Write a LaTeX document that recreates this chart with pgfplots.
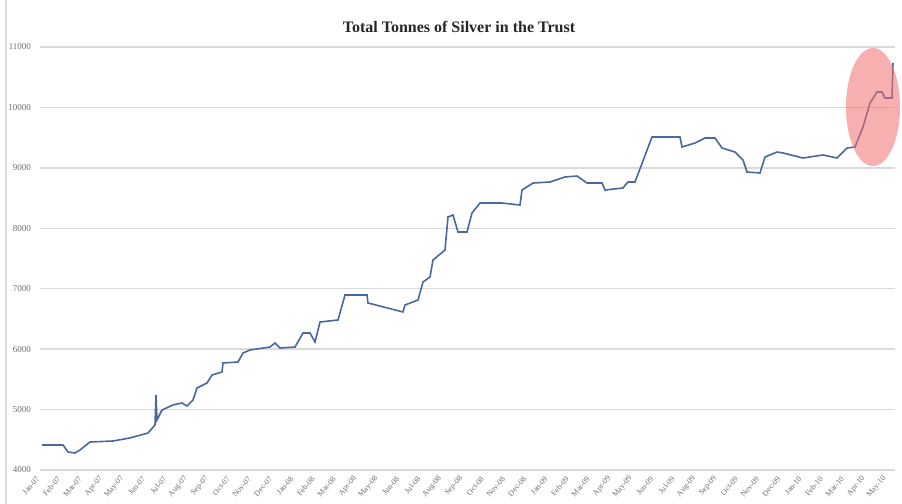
\documentclass[border=0pt]{standalone}
\usepackage{fontspec}
\setmainfont{Liberation Serif}
\usepackage{pgfplots}
\pgfplotsset{compat=1.18}
\definecolor{trustline}{RGB}{72,104,158}
\definecolor{gridgray}{RGB}{218,218,218}
\definecolor{ticktext}{RGB}{110,110,110}
\definecolor{ringred}{RGB}{240,110,110}

\begin{document}
\begin{tikzpicture}
\path[use as bounding box] (0,0) rectangle (451pt,252pt);
\draw[gridgray, line width=0.6pt] (3pt,0) -- (3pt,252pt);
\begin{axis}[
  at={(20pt,17pt)}, anchor=south west,
  scale only axis,
  width=427.5pt, height=211.5pt,
  xmin=40, xmax=895,
  ymin=4000, ymax=11000,
  axis line style={draw=none},
  ytick={4000,5000,...,11000},
  scaled y ticks=false,
  ymajorgrids,
  grid style={gridgray, line width=0.7pt},
  major tick length=0pt,
  /pgf/number format/assume math mode=true,
  /pgf/number format/1000 sep={},
  yticklabel style={font=\fontsize{4.5}{5}\selectfont, text=ticktext, xshift=-1pt},
  xtick={40,61.175,...,888},
  xticklabels={Jan-07,Feb-07,Mar-07,Apr-07,May-07,Jun-07,Jul-07,Aug-07,Sep-07,Oct-07,Nov-07,Dec-07,
    Jan-08,Feb-08,Mar-08,Apr-08,May-08,Jun-08,Jul-08,Aug-08,Sep-08,Oct-08,Nov-08,Dec-08,
    Jan-09,Feb-09,Mar-09,Apr-09,May-09,Jun-09,Jul-09,Aug-09,Sep-09,Oct-09,Nov-09,Dec-09,
    Jan-10,Feb-10,Mar-10,Apr-10,May-10},
  xticklabel style={font=\fontsize{4}{4.5}\selectfont, text=ticktext, rotate=50, anchor=east, yshift=-1.5pt},
  clip=false,
]
\addplot[trustline, line width=0.8pt, mark=none] coordinates {
(42,4414) (63,4414) (68,4298) (75,4281) (80,4331) (90,4463) (113,4480)
(130,4530) (148,4612) (155,4745) (156,5241) (157,4827) (162,4993)
(173,5076) (182,5109) (187,5059) (193,5158) (197,5357) (207,5440)
(212,5572) (222,5622) (223,5771) (238,5787) (243,5936) (250,5986)
(270,6035) (275,6102) (280,6019) (295,6035) (303,6267) (310,6267)
(315,6118) (320,6449) (338,6482) (345,6896) (367,6896) (368,6764)
(403,6615) (405,6730) (418,6813) (423,7111) (430,7194) (433,7475)
(445,7641) (448,8187) (453,8220) (458,7938) (467,7938) (472,8253)
(480,8418) (502,8418) (520,8385) (522,8633) (533,8749) (550,8766)
(565,8849) (577,8865) (587,8749) (602,8749) (605,8633) (623,8667)
(628,8766) (635,8766) (652,9510) (680,9510) (682,9345) (695,9411)
(705,9494) (715,9494) (722,9328) (735,9262) (743,9130) (747,8931)
(760,8915) (765,9180) (777,9262) (783,9246) (803,9163) (823,9213)
(837,9163) (847,9328) (855,9345) (863,9676) (870,10073) (877,10255)
(882,10255) (885,10156) (892,10156) (893,10735)
};
\fill[ringred, fill opacity=0.55] (axis cs:873,10007) ellipse [x radius=13.5pt, y radius=29.5pt];
\end{axis}
\node[font=\bfseries\fontsize{8}{9}\selectfont, text=black!85] at (229.5pt,238.5pt) {Total Tonnes of Silver in the Trust};
\end{tikzpicture}
\end{document}
